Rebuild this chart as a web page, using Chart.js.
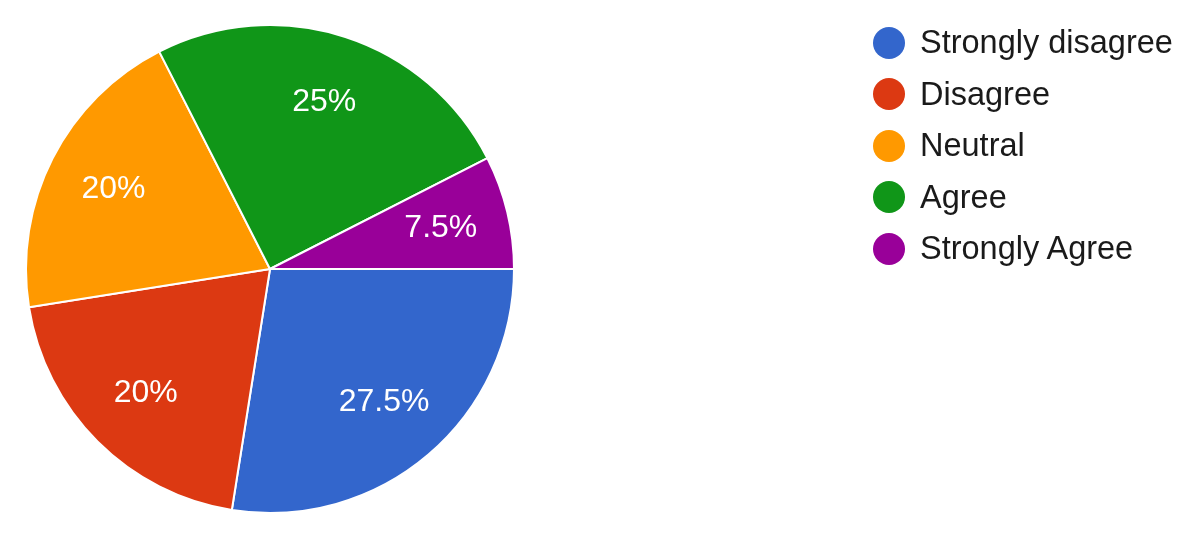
<!DOCTYPE html>
<html>
<head>
    <title>Survey Responses</title>
    <script src="https://cdn.jsdelivr.net/npm/chart.js"></script>
    <style>
        body { margin: 0; background: #fff; font-family: "Liberation Sans", Arial, sans-serif; }
        #wrap { position: relative; width: 1200px; height: 542px; }
        #legend { position: absolute; left: 873px; top: 17px; margin: 0; padding: 0; list-style: none; }
        #legend li { height: 51.5px; display: flex; align-items: center; font-size: 32.5px; color: #1a1a1a; }
        #legend span { display: inline-block; width: 32px; height: 32px; border-radius: 50%; margin-right: 15px; }
    </style>
</head>
<body>
    <div id="wrap">
        <canvas id="pieChart" width="1200" height="542"></canvas>
        <ul id="legend"></ul>
    </div>

    <script>
        var labels = ['Strongly disagree', 'Disagree', 'Neutral', 'Agree', 'Strongly Agree'];
        var percents = [27.5, 20, 20, 25, 7.5];
        var colors = ['#3366cc', '#dc3912', '#ff9900', '#109618', '#990099'];

        // percent labels inside the slices
        var sliceLabels = {
            id: 'sliceLabels',
            afterDatasetsDraw: function(chart) {
                var ctx = chart.ctx;
                var meta = chart.getDatasetMeta(0);
                ctx.save();
                ctx.fillStyle = '#fff';
                ctx.font = '32px "Liberation Sans", Arial, sans-serif';
                ctx.textAlign = 'center';
                ctx.textBaseline = 'middle';
                meta.data.forEach(function(arc, i) {
                    var p = arc.getProps(['x', 'y', 'startAngle', 'endAngle', 'outerRadius'], true);
                    var mid = (p.startAngle + p.endAngle) / 2;
                    var r = p.outerRadius * 0.72;
                    ctx.fillText(percents[i] + '%', p.x + Math.cos(mid) * r, p.y + Math.sin(mid) * r);
                });
                ctx.restore();
            }
        };

        new Chart(document.getElementById('pieChart'), {
            type: 'pie',
            data: {
                labels: labels,
                datasets: [{
                    data: percents,
                    backgroundColor: colors,
                    borderColor: '#fff',
                    borderWidth: 2
                }]
            },
            options: {
                responsive: false,
                animation: false,
                rotation: 90,
                layout: { padding: { left: 25, top: 24, right: 685, bottom: 28 } },
                plugins: {
                    legend: { display: false },
                    tooltip: { enabled: false }
                }
            },
            plugins: [sliceLabels]
        });

        var legend = document.getElementById('legend');
        labels.forEach(function(name, i) {
            var li = document.createElement('li');
            var dot = document.createElement('span');
            dot.style.background = colors[i];
            li.appendChild(dot);
            li.appendChild(document.createTextNode(name));
            legend.appendChild(li);
        });
    </script>
</body>
</html>
